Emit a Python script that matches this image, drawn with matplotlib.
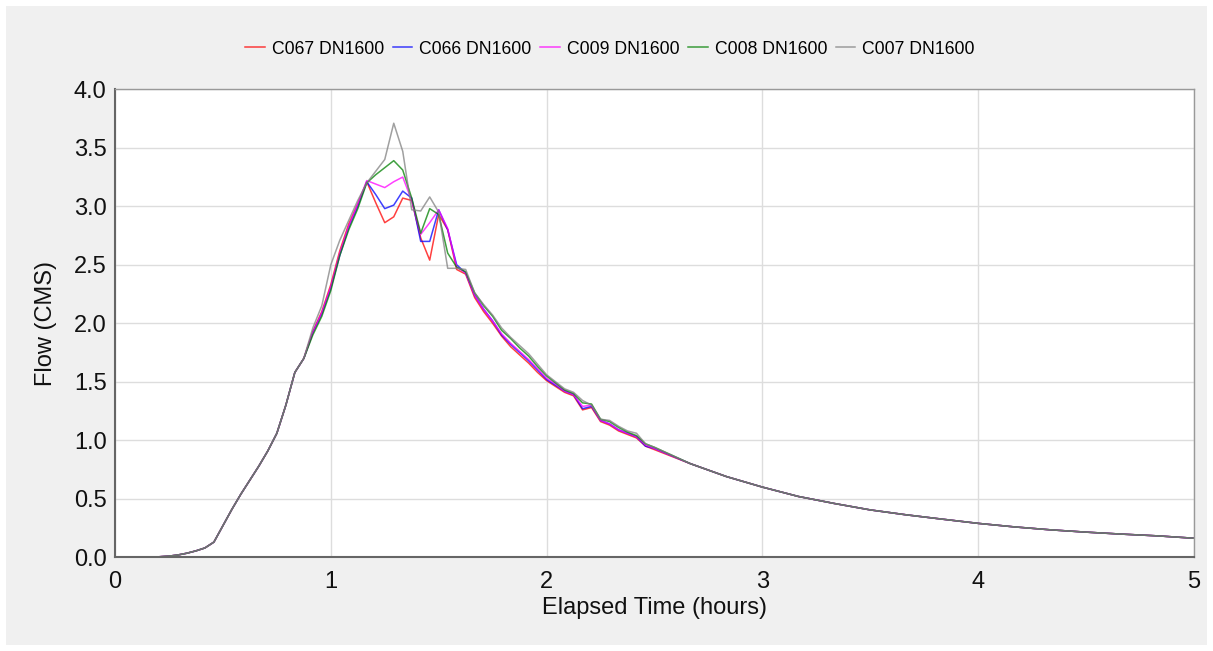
import numpy as np
import matplotlib.pyplot as plt
from matplotlib.patches import Rectangle

plt.rcParams['font.family'] = ['Liberation Sans', 'DejaVu Sans']

# time grid: 2.5 min steps up to 2.5 h, then 10 min steps to the end
t_fine = np.arange(0, 61) / 24.0
t_tail = 2.5 + np.arange(1, 16) / 6.0
t_hours = np.concatenate([t_fine, t_tail])

# rising limb, shared by all five outlets (0 - 0.875 h)
rise_flow = [0, 0, 0, 0, 0, 0.005, 0.01, 0.02, 0.035, 0.055, 0.08, 0.13,
             0.27, 0.41, 0.54, 0.66, 0.78, 0.91, 1.06, 1.30, 1.58, 1.70]

# peak and early recession per outlet (0.917 - 2.5 h)
c067 = [1.93, 2.10, 2.33, 2.62, 2.85, 3.02, 3.21, 3.03, 2.86, 2.91, 3.07, 3.05,
        2.73, 2.54, 2.93, 2.80, 2.46, 2.42,
        2.22, 2.10, 2.00, 1.89, 1.80, 1.73, 1.66, 1.58, 1.51, 1.46, 1.41, 1.38,
        1.26, 1.28, 1.16, 1.13, 1.08, 1.05, 1.02, 0.95, 0.92]
c066 = [1.92, 2.08, 2.30, 2.58, 2.82, 3.00, 3.21, 3.10, 2.98, 3.01, 3.13, 3.07,
        2.70, 2.70, 2.97, 2.80, 2.50, 2.43,
        2.24, 2.12, 2.02, 1.90, 1.82, 1.75, 1.68, 1.60, 1.52, 1.47, 1.42, 1.39,
        1.27, 1.29, 1.17, 1.14, 1.09, 1.06, 1.03, 0.95, 0.93]
c009 = [1.92, 2.09, 2.31, 2.60, 2.83, 3.02, 3.22, 3.19, 3.16, 3.21, 3.25, 3.05,
        2.76, 2.86, 2.97, 2.81, 2.48, 2.43,
        2.24, 2.12, 2.02, 1.91, 1.83, 1.76, 1.69, 1.61, 1.53, 1.48, 1.42, 1.39,
        1.29, 1.30, 1.17, 1.14, 1.09, 1.06, 1.03, 0.96, 0.93]
c008 = [1.90, 2.06, 2.28, 2.58, 2.80, 2.98, 3.20, 3.27, 3.33, 3.39, 3.31, 3.07,
        2.77, 2.98, 2.93, 2.60, 2.48, 2.44,
        2.26, 2.15, 2.06, 1.94, 1.87, 1.79, 1.72, 1.63, 1.55, 1.49, 1.43, 1.40,
        1.32, 1.31, 1.18, 1.16, 1.11, 1.07, 1.04, 0.97, 0.94]
c007 = [1.96, 2.15, 2.50, 2.71, 2.88, 3.05, 3.20, 3.30, 3.40, 3.71, 3.47, 2.97,
        2.96, 3.08, 2.95, 2.47, 2.47, 2.46,
        2.26, 2.16, 2.07, 1.96, 1.88, 1.81, 1.74, 1.65, 1.56, 1.50, 1.44, 1.41,
        1.34, 1.30, 1.18, 1.17, 1.12, 1.08, 1.06, 0.97, 0.94]

# late recession, shared (2.667 - 5 h)
tail_flow = [0.80, 0.69, 0.60, 0.52, 0.46, 0.405, 0.363, 0.326, 0.29, 0.26,
             0.235, 0.215, 0.198, 0.183, 0.163]

labels = ['C067 DN1600', 'C066 DN1600', 'C009 DN1600', 'C008 DN1600', 'C007 DN1600']
colors = ['#ff0000', '#0000ff', '#ff00ff', '#008000', '#808080']
series = [c067, c066, c009, c008, c007]

fig = plt.figure(figsize=(12.13, 6.51), dpi=100, facecolor='white')
fig.patches.append(Rectangle((6 / 1213, 6 / 651), 1201 / 1213, 639 / 651,
                             transform=fig.transFigure, facecolor='#f0f0f0',
                             edgecolor='none', zorder=-10))

ax = fig.add_axes([115 / 1213, 1 - 557.3 / 651, 1079 / 1213, 468 / 651])
ax.set_facecolor('white')

for name, col, vals in zip(labels, colors, series):
    q = np.array(rise_flow + vals + tail_flow)
    ax.plot(t_hours, q, color=col, lw=1.1, alpha=0.75, label=name)

ax.set_xlim(0, 5)
ax.set_ylim(0, 4)
ax.set_xticks(range(0, 6))
ax.set_yticks(np.arange(0, 4.01, 0.5))
ax.set_yticklabels([f'{v:.1f}' for v in np.arange(0, 4.01, 0.5)])
ax.tick_params(length=0, labelsize=17, colors='#111111')
ax.tick_params(axis='x', pad=10)
ax.tick_params(axis='y', pad=6)
ax.grid(True, color='#dddddd', lw=1)
ax.set_axisbelow(True)

for side in ['left', 'bottom']:
    ax.spines[side].set_color('#666666')
    ax.spines[side].set_linewidth(1.5)
for side in ['top', 'right']:
    ax.spines[side].set_color('#999999')
    ax.spines[side].set_linewidth(1.0)

ax.set_xlabel('Elapsed Time (hours)', fontsize=17, labelpad=3, color='#111111')
ax.set_ylabel('Flow (CMS)', fontsize=17, labelpad=12, color='#111111')

fig.legend(loc='center', bbox_to_anchor=(610 / 1213, 1 - 49 / 651), ncol=5,
           frameon=False, fontsize=12.7, handlelength=1.1, handletextpad=0.4,
           columnspacing=0.5)

fig.savefig('out.png', dpi=100)
